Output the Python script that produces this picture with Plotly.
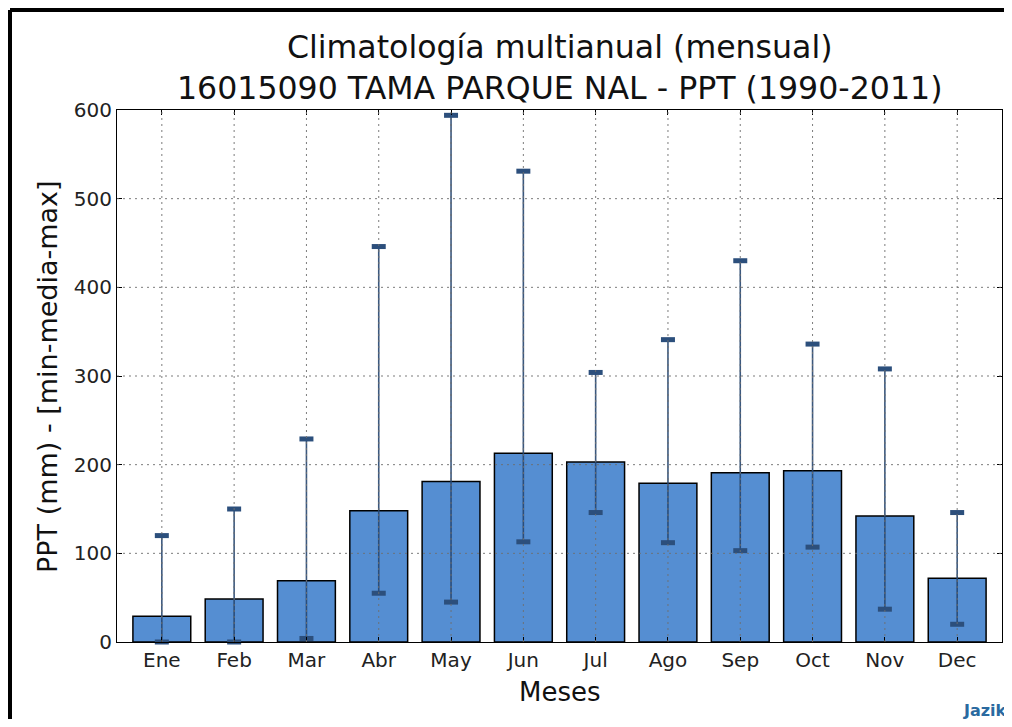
import plotly.graph_objects as go

# Monthly climatology data (mm)
meses = ["Ene", "Feb", "Mar", "Abr", "May", "Jun", "Jul", "Ago", "Sep", "Oct", "Nov", "Dec"]
ppt_media = [29, 48.5, 69, 148, 181, 213, 203, 179, 191, 193, 142, 72]
ppt_min = [0, 0, 4, 55, 45, 113, 146, 112, 103, 107, 37, 20]
ppt_max = [120, 150, 229, 446, 594, 531, 304, 341, 430, 336, 308, 146]
y_ticks = [0, 100, 200, 300, 400, 500, 600]

FONT = "DejaVu Sans"
BAR_COLOR = "#558ed2"
ERR_COLOR = "rgba(38, 70, 112, 0.9)"
CAP_COLOR = "#2c4f7c"

x_idx = list(range(len(meses)))

fig = go.Figure()

# Bars = mean, error bar spans min..max
fig.add_trace(go.Bar(
    x=x_idx,
    y=ppt_media,
    width=0.8,
    marker=dict(color=BAR_COLOR, line=dict(color="black", width=1.5)),
    error_y=dict(
        type="data",
        symmetric=False,
        array=[mx - m for mx, m in zip(ppt_max, ppt_media)],
        arrayminus=[m - mn for m, mn in zip(ppt_media, ppt_min)],
        color=ERR_COLOR,
        thickness=1.6,
        width=0,
    ),
    showlegend=False,
    hoverinfo="skip",
))

# Thick caps at min and max
for vals in (ppt_min, ppt_max):
    fig.add_trace(go.Scatter(
        x=x_idx,
        y=vals,
        mode="markers",
        marker=dict(symbol="line-ew", size=10, line=dict(color=CAP_COLOR, width=5)),
        showlegend=False,
        hoverinfo="skip",
        cliponaxis=False,
    ))

# Dotted grid drawn above the bars (as in the original)
grid_style = dict(color="rgba(110,110,110,0.9)", width=1, dash="2px,4px")
for yv in y_ticks[1:-1]:
    fig.add_shape(type="line", xref="paper", yref="y", x0=0, x1=1, y0=yv, y1=yv,
                  line=grid_style, layer="above")
for xv in x_idx:
    fig.add_shape(type="line", xref="x", yref="paper", x0=xv, x1=xv, y0=0, y1=1,
                  line=grid_style, layer="above")

# Outer black frame (left and top visible)
fig.add_shape(type="line", xref="paper", yref="paper", x0=-0.1209, x1=-0.1209, y0=-0.2, y1=1.188,
              line=dict(color="black", width=4), layer="above")
fig.add_shape(type="line", xref="paper", yref="paper", x0=-0.1209, x1=1.0105, y0=1.188, y1=1.188,
              line=dict(color="black", width=4), layer="above")

axis_common = dict(
    showline=True, linecolor="black", linewidth=1.2, mirror="ticks",
    ticks="inside", ticklen=5, tickcolor="black", showgrid=False, zeroline=False,
    tickfont=dict(family=FONT, size=20, color="#222"),
)

fig.update_xaxes(
    range=[-0.62, 11.62],
    tickmode="array", tickvals=x_idx, ticktext=meses,
    **axis_common,
)
fig.update_yaxes(
    range=[0, 600],
    tickmode="array", tickvals=y_ticks,
    **axis_common,
)

fig.add_annotation(
    text="Climatología multianual (mensual)<br>16015090 TAMA PARQUE NAL - PPT (1990-2011)",
    xref="paper", yref="paper", x=0.5, y=1.0799, xanchor="center", yanchor="middle",
    showarrow=False, font=dict(family=FONT, size=31.6, color="#111"),
)
fig.add_annotation(
    text="Meses", xref="paper", yref="paper", x=0.5, y=-0.094,
    xanchor="center", yanchor="middle", showarrow=False,
    font=dict(family=FONT, size=26, color="#111"),
)
fig.add_annotation(
    text="PPT (mm) - [min-media-max]", xref="paper", yref="paper", x=-0.0791, y=0.5,
    xanchor="center", yanchor="middle", textangle=-90, showarrow=False,
    font=dict(family=FONT, size=27, color="#111"),
)
fig.add_annotation(
    text="<b>Jazik</b>", xref="paper", yref="paper", x=0.9535, y=-0.128,
    xanchor="left", yanchor="middle", showarrow=False,
    font=dict(family=FONT, size=16, color="#2a6aa0"),
)

# Page body has an 8px margin: size the figure so the page does not scroll
fig.update_layout(
    width=1004, height=711,
    margin=dict(l=109, r=10, t=102, b=77),
    paper_bgcolor="white", plot_bgcolor="white",
    bargap=0.2,
)

fig.write_html("out.html", config={"displayModeBar": False})
